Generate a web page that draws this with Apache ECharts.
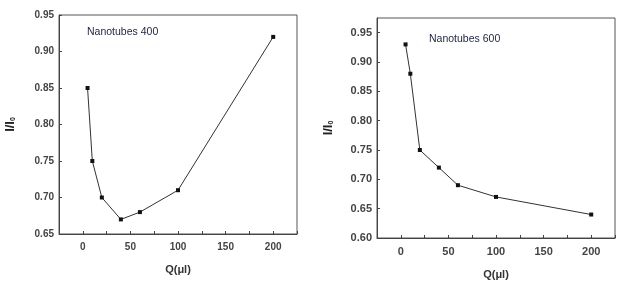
<!DOCTYPE html>
<html>
<head>
<meta charset="utf-8">
<script src="https://cdn.jsdelivr.net/npm/echarts@6/dist/echarts.min.js"></script>
<style>
html, body { margin: 0; padding: 0; background: #fff; }
#main { width: 624px; height: 285px; }
</style>
</head>
<body>
<div id="main"></div>
<script>
// data
var qValues = [5, 10, 20, 40, 60, 100, 200];
var ratio400 = [0.85, 0.75, 0.70, 0.67, 0.68, 0.71, 0.92];
var ratio600 = [0.93, 0.88, 0.75, 0.72, 0.69, 0.67, 0.64];
var xTickLabels = [0, 50, 100, 150, 200];
var chartLabels = ['Nanotubes 400', 'Nanotubes 600'];

function pairs(xs, ys) {
    var out = [];
    for (var i = 0; i < xs.length; i++) out.push([xs[i], ys[i]]);
    return out;
}

var chart = echarts.init(document.getElementById('main'));
var font = 'Liberation Sans, Arial, sans-serif';

function xAxisCfg(idx, gap, size) {
    return {
        type: 'value', gridIndex: idx,
        min: -25, max: 225, interval: 25,
        name: 'Q(μl)', nameLocation: 'middle', nameGap: gap,
        nameTextStyle: { fontFamily: font, fontSize: 11, fontWeight: 'bold', color: '#333' },
        axisLine: { show: true, onZero: false, lineStyle: { color: '#444', width: 1 } },
        axisTick: { show: true, inside: true, length: 3, lineStyle: { color: '#444' } },
        axisLabel: {
            fontFamily: font, fontSize: size, fontWeight: 'bold', color: '#444', margin: 8,
            formatter: function (v) { return xTickLabels.indexOf(v) >= 0 ? String(v) : ''; }
        },
        splitLine: { show: false }
    };
}

function yAxisCfg(idx, min, max, size) {
    return {
        type: 'value', gridIndex: idx,
        min: min, max: max, interval: 0.05,
        name: '{a|I/I}{b|0}', nameLocation: 'middle', nameGap: 42, nameRotate: 90,
        nameTextStyle: {
            rich: {
                a: { fontFamily: font, fontSize: 13, fontWeight: 'bold', color: '#222' },
                b: { fontFamily: font, fontSize: 7, fontWeight: 'bold', color: '#222', padding: [7, 0, 0, 0] }
            }
        },
        axisLine: { show: true, onZero: false, lineStyle: { color: '#444', width: 1 } },
        axisTick: { show: true, inside: true, length: 3, lineStyle: { color: '#444' } },
        axisLabel: {
            fontFamily: font, fontSize: size, fontWeight: 'bold', color: '#444', margin: 5,
            showMaxLabel: max === 0.95,
            formatter: function (v) { return v.toFixed(2); }
        },
        splitLine: { show: false }
    };
}

function lineSeries(idx, data) {
    return {
        type: 'line', xAxisIndex: idx, yAxisIndex: idx,
        data: data,
        symbol: 'rect', symbolSize: 4,
        itemStyle: { color: '#111' },
        lineStyle: { color: '#333', width: 1 },
        animation: false
    };
}

var option = {
    backgroundColor: '#fff',
    animation: false,
    grid: [
        { left: 59, top: 15, width: 238, height: 219, show: true, borderColor: '#555', borderWidth: 1, backgroundColor: '#fff' },
        { left: 377, top: 18, width: 238, height: 221, show: true, borderColor: '#555', borderWidth: 1, backgroundColor: '#fff' }
    ],
    xAxis: [xAxisCfg(0, 30, 10), xAxisCfg(1, 31, 11)],
    yAxis: [yAxisCfg(0, 0.65, 0.95, 10), yAxisCfg(1, 0.60, 0.975, 11)],
    series: [
        lineSeries(0, pairs(qValues, ratio400)),
        lineSeries(1, pairs(qValues, ratio600))
    ],
    graphic: [
        { type: 'text', left: 87, top: 27, style: { text: chartLabels[0], fontFamily: font, fontSize: 10.5, fill: '#1c2240' } },
        { type: 'text', left: 429, top: 34, style: { text: chartLabels[1], fontFamily: font, fontSize: 10.5, fill: '#1c2240' } }
    ]
};

chart.setOption(option);
window.onresize = function () { chart.resize(); };
</script>
</body>
</html>
